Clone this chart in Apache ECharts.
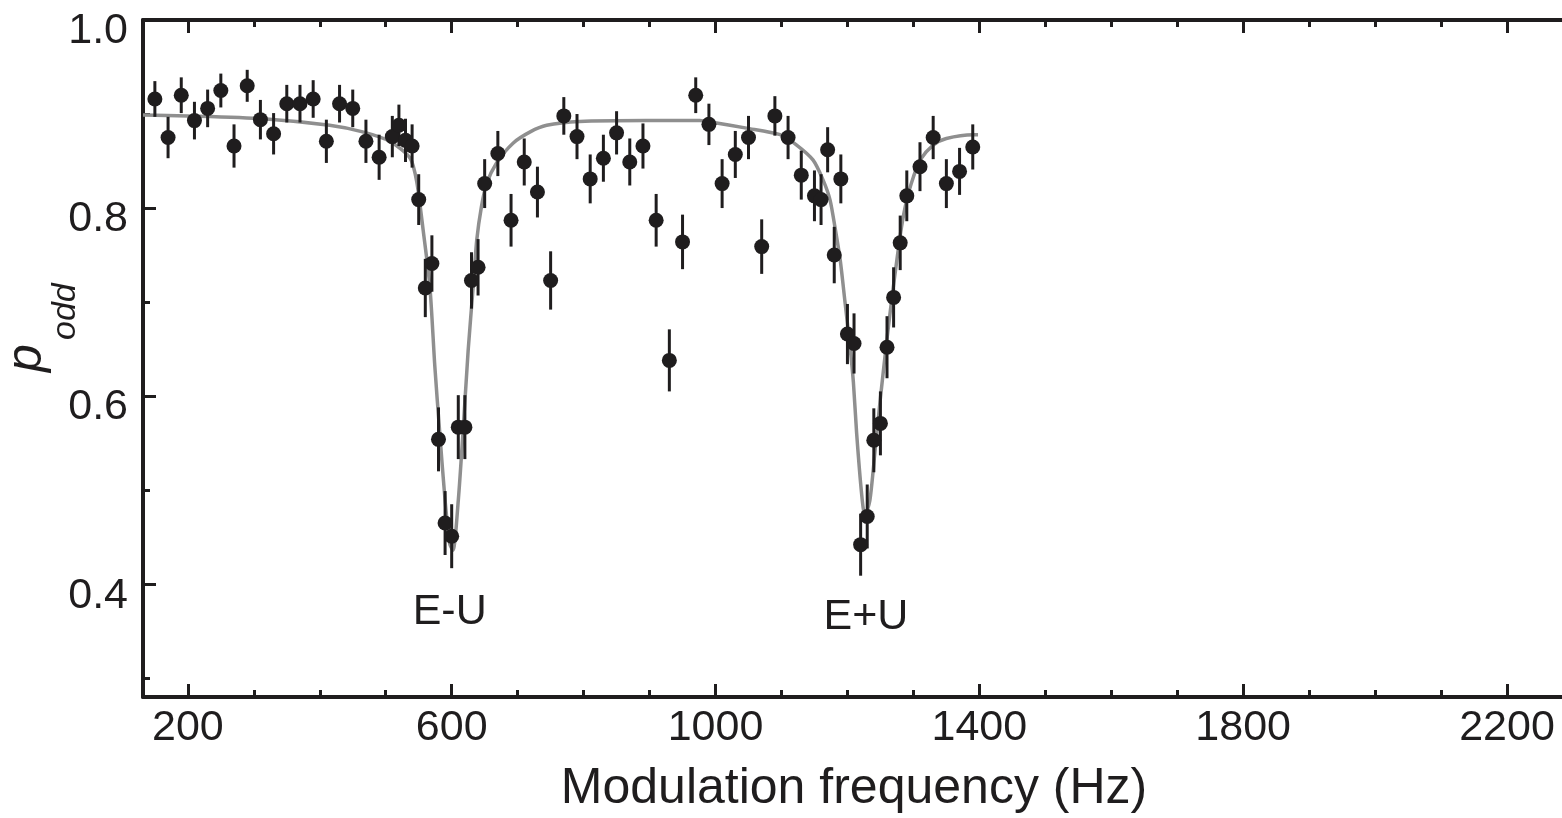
<!DOCTYPE html>
<html>
<head>
<meta charset="utf-8">
<script src="https://cdn.jsdelivr.net/npm/echarts@6/dist/echarts.min.js"></script>
<style>
html,body{margin:0;padding:0;background:#fff;}
#chart{width:1562px;height:818px;}
</style>
</head>
<body>
<div id="chart"></div>
<script>
// ---- data ----
const freq = [150,170,190,210,230,250,270,290,310,330,350,370,390,410,430,450,470,490,510,520,530,540,550,560,570,580,590,600,610,620,630,640,650,670,690,710,730,750,770,790,810,830,850,870,890,910,930,950,970,990,1010,1030,1050,1070,1090,1110,1130,1150,1160,1170,1180,1190,1200,1210,1220,1230,1240,1250,1260,1270,1280,1290,1310,1330,1350,1370,1390];
const podd = [0.916,0.875,0.920,0.893,0.906,0.925,0.866,0.930,0.894,0.879,0.911,0.911,0.916,0.871,0.911,0.906,0.871,0.854,0.876,0.888,0.872,0.866,0.809,0.715,0.741,0.554,0.465,0.451,0.567,0.567,0.723,0.737,0.826,0.858,0.787,0.849,0.817,0.723,0.898,0.876,0.831,0.853,0.880,0.849,0.866,0.787,0.638,0.764,0.920,0.889,0.826,0.857,0.875,0.759,0.898,0.875,0.835,0.813,0.809,0.862,0.750,0.831,0.666,0.656,0.442,0.472,0.553,0.571,0.652,0.705,0.763,0.813,0.844,0.875,0.826,0.839,0.865];
const poddErr = [0.019,0.022,0.019,0.020,0.020,0.018,0.023,0.017,0.021,0.022,0.020,0.020,0.020,0.023,0.020,0.020,0.023,0.024,0.022,0.022,0.023,0.023,0.027,0.031,0.030,0.034,0.034,0.034,0.034,0.034,0.030,0.030,0.026,0.024,0.028,0.025,0.027,0.031,0.020,0.024,0.026,0.025,0.023,0.025,0.024,0.028,0.033,0.029,0.019,0.022,0.026,0.025,0.023,0.029,0.021,0.023,0.026,0.027,0.027,0.024,0.030,0.026,0.032,0.032,0.033,0.034,0.034,0.034,0.033,0.032,0.029,0.027,0.026,0.023,0.026,0.025,0.024];
const fitFreq = [132,200,314,415,465,506,537,547,557,567,574.5,582,590,597,602,610,617,625,633,638,645,653,668,693,719,744,794,895,976,997,1047,1098,1123,1148,1163,1173.5,1181,1189,1196,1204,1209,1214,1221.5,1226.5,1234,1242,1250,1259,1267,1275,1282,1290,1300,1310,1330,1350,1391,1398];
const fitPodd = [0.899,0.898,0.895,0.888,0.881,0.871,0.853,0.828,0.775,0.716,0.631,0.560,0.489,0.443,0.436,0.489,0.560,0.649,0.720,0.766,0.801,0.826,0.848,0.869,0.881,0.888,0.892,0.893,0.893,0.891,0.885,0.878,0.867,0.851,0.830,0.809,0.780,0.745,0.702,0.652,0.615,0.560,0.496,0.473,0.489,0.543,0.598,0.655,0.702,0.745,0.780,0.809,0.833,0.851,0.867,0.874,0.878,0.878];
const xMajorTicks = [200,600,1000,1400,1800,2200];
const xMinorTicks = [300,400,500,700,800,900,1100,1200,1300,1500,1600,1700,1900,2000,2100,2300];
const yMajorTicks = [0.4,0.6,0.8,1.0];
const yMinorTicks = [0.3,0.5,0.7,0.9];
const annotText = ['E-U','E+U'];
const annotFreq = [597,1228];
const annotPodd = [0.370,0.365];
const xTitle = 'Modulation frequency (Hz)';

// ---- chart ----
const INK = '#1f1d1e';
const FONT = '"Liberation Sans", Arial, Helvetica, sans-serif';
const XMIN = 132, XMAX = 2344, YMIN = 0.28, YMAX = 1.0;
const gridRect = {left:143, top:20, right:-40, bottom:121, containLabel:false, outerBoundsMode:'none'};

const points = freq.map((f,i)=>[f,podd[i]]);
const bars = freq.map((f,i)=>[f,podd[i]-poddErr[i],podd[i]+poddErr[i]]);
const fit = fitFreq.map((f,i)=>[f,fitPodd[i]]);
const annots = annotText.map((t,i)=>[annotFreq[i],annotPodd[i],t]);

function xAx(grid,pos,ticks,len,main){
  return {
    type:'value', gridIndex:grid, position:pos, min:XMIN, max:XMAX,
    axisLine:{show:main, onZero:false, lineStyle:{color:INK,width:4}},
    axisTick:{show:true, inside:true, length:len, customValues:ticks, lineStyle:{color:INK,width:3}},
    axisLabel:{show:main && pos==='bottom', customValues:ticks, color:INK, fontSize:43, fontFamily:FONT, margin:10,
      formatter:v=>String(v)},
    splitLine:{show:false}
  };
}
function yAx(grid,ticks,len,main){
  return {
    type:'value', gridIndex:grid, position:'left', min:YMIN, max:YMAX,
    axisLine:{show:main, onZero:false, lineStyle:{color:INK,width:4}},
    axisTick:{show:true, inside:true, length:len, customValues:ticks, lineStyle:{color:INK,width:3}},
    axisLabel:{show:main, customValues:ticks, margin:15,
      formatter:v=>'{a|'+v.toFixed(1)+'}',
      rich:{a:{color:INK, fontSize:43, fontFamily:FONT, padding:[23,0,0,0]}}},
    splitLine:{show:false}
  };
}

const chart = echarts.init(document.getElementById('chart'), null, {renderer:'canvas'});
chart.setOption({
  animation:false,
  backgroundColor:'#ffffff',
  grid:[Object.assign({},gridRect), Object.assign({},gridRect)],
  xAxis:[
    xAx(0,'bottom',xMajorTicks,13,true),
    xAx(0,'top',xMajorTicks,13,true),
    xAx(1,'bottom',xMinorTicks,7,false),
    xAx(1,'top',xMinorTicks,7,false)
  ],
  yAxis:[
    yAx(0,yMajorTicks,13,true),
    yAx(1,yMinorTicks,7,false)
  ],
  series:[
    {
      type:'line', xAxisIndex:0, yAxisIndex:0, data:fit, showSymbol:false, smooth:0.25,
      lineStyle:{color:'#8f8f8f', width:3.5}, z:1
    },
    {
      type:'custom', xAxisIndex:0, yAxisIndex:0, data:bars, z:2,
      renderItem:function(params, api){
        const a = api.coord([api.value(0), api.value(1)]);
        const b = api.coord([api.value(0), api.value(2)]);
        return {type:'line', shape:{x1:a[0],y1:a[1],x2:b[0],y2:b[1]}, style:{stroke:INK, lineWidth:3}};
      }
    },
    {
      type:'scatter', xAxisIndex:0, yAxisIndex:0, data:points, symbol:'circle', symbolSize:15,
      itemStyle:{color:INK, opacity:1}, z:3
    },
    {
      type:'scatter', xAxisIndex:0, yAxisIndex:0, data:annots, symbolSize:0, silent:true,
      itemStyle:{opacity:1},
      label:{show:true, position:'inside', formatter:p=>p.value[2], color:INK, fontSize:43, fontFamily:FONT}
    }
  ],
  graphic:[
    {type:'text', x:854, y:789, style:{text:xTitle, fill:INK, font:'50px '+FONT, textAlign:'center', textVerticalAlign:'middle'}},
    {type:'group', x:27, y:372, rotation:Math.PI/2, children:[
      {type:'text', x:0, y:0, style:{text:'p', fill:INK, font:'italic 50px '+FONT, textAlign:'left', textVerticalAlign:'middle'}},
      {type:'text', x:32, y:39, style:{text:'odd', fill:INK, font:'italic 34px '+FONT, textAlign:'left', textVerticalAlign:'middle'}}
    ]}
  ]
});
</script>
</body>
</html>
